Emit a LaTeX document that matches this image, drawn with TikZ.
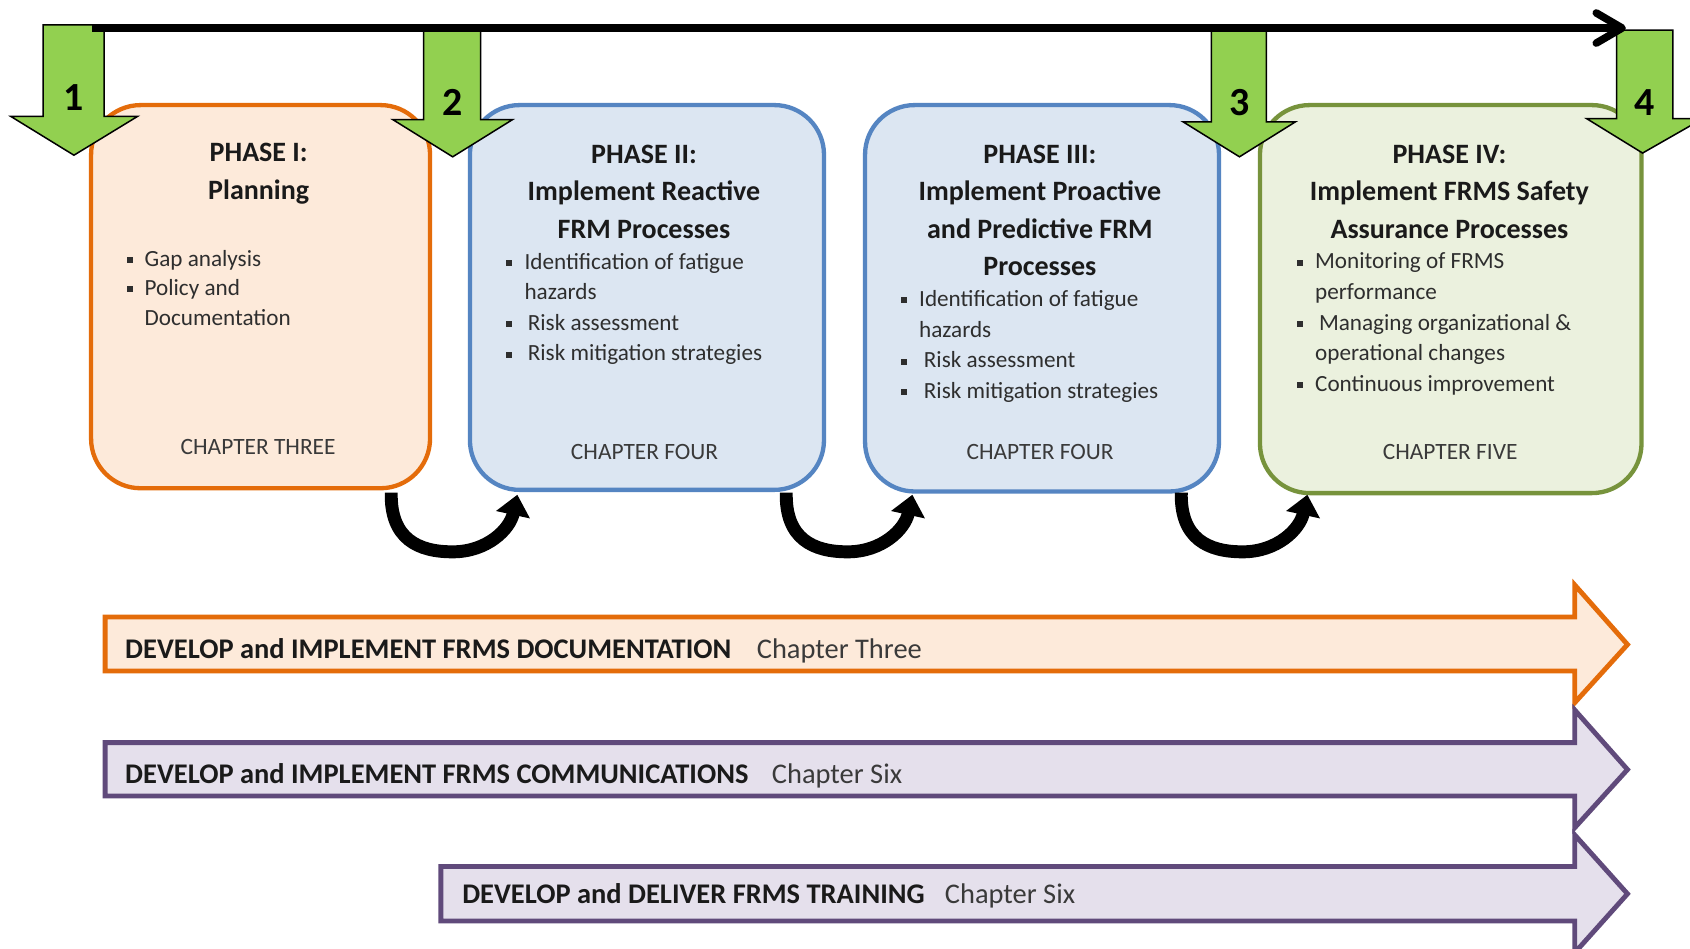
\documentclass[tikz,border=0pt]{standalone}
\usepackage{fontspec}
\setmainfont{Carlito}
\usetikzlibrary{arrows.meta}
\definecolor{orgB}{HTML}{E46C0A}
\definecolor{orgF}{HTML}{FDEADA}
\definecolor{bluB}{HTML}{5585C2}
\definecolor{bluF}{HTML}{DCE6F2}
\definecolor{grnB}{HTML}{77933C}
\definecolor{grnF}{HTML}{EBF1DE}
\definecolor{purB}{HTML}{604A7B}
\definecolor{purF}{HTML}{E5E0EC}
\definecolor{grnArrow}{HTML}{92D050}
\definecolor{tcol}{HTML}{1A1A1A}
\definecolor{bcol}{HTML}{2E2E2E}
\definecolor{ccol}{HTML}{3A3A3A}
\newcommand\bl[1]{\makebox[#1][l]{\raisebox{3pt}{\rule{5.5pt}{5.5pt}}}}
\begin{document}
\begin{tikzpicture}[x=1pt,y=-1pt,
  phase/.style={rounded corners=46pt, line width=4pt, anchor=north west, inner sep=0pt, outer sep=0pt},
  ttl/.style={anchor=base, align=center, inner sep=0pt, text=tcol, font=\bfseries\fontsize{26}{34.8}\selectfont},
  bul/.style={anchor=base west, align=left, inner sep=0pt, text=bcol, font=\fontsize{21.5}{28.4}\selectfont},
  chap/.style={anchor=base, inner sep=0pt, text=ccol, font=\fontsize{21.7}{26}\selectfont},
  garrow/.style={fill=grnArrow, draw=black, line width=1.4pt, line join=miter},
  num/.style={anchor=base, inner sep=0pt, text=black, font=\bfseries\fontsize{37}{40}\selectfont},
  topline/.style={line width=7pt, black},
  curv/.style={line width=12pt, black, -{Triangle[length=19pt,width=31pt]}},
  barrow/.style={line width=4.5pt, line join=miter},
  btxt/.style={anchor=base west, inner sep=0pt, text=tcol, font=\bfseries\fontsize{26.4}{30}\selectfont},
  bchap/.style={anchor=base west, inner sep=0pt, text=ccol, font=\fontsize{26.4}{30}\selectfont}
]
\useasboundingbox (0,0) rectangle (1568,880);
\fill[white] (0,0) rectangle (1568,880);

% phase boxes
\node[phase, draw=orgB, fill=orgF, minimum width=314.5pt, minimum height=355.5pt] (p1) at (84.5,97.5) {};
\node[phase, draw=bluB, fill=bluF, minimum width=328.5pt, minimum height=357pt] (p2) at (436,97.5) {};
\node[phase, draw=bluB, fill=bluF, minimum width=328.4pt, minimum height=358.5pt] (p3) at (802.6,97.5) {};
\node[phase, draw=grnB, fill=grnF, minimum width=354pt, minimum height=360pt] (p4) at (1169,97.5) {};

% titles (anchor = baseline of last line)
\node[ttl] (t1) at (240,184.8) {PHASE I:\\Planning};
\node[ttl] (t2) at (597.5,221.1) {PHASE II:\\Implement Reactive\\FRM Processes};
\node[ttl] (t3) at (964.8,255.9) {PHASE III:\\Implement Proactive\\and Predictive FRM\\Processes};
\node[ttl] (t4) at (1344.8,221.1) {PHASE IV:\\Implement FRMS Safety\\Assurance Processes};

% bullets (anchor = baseline of last line)
\node[bul, font=\fontsize{21.5}{27.3}\selectfont] (b1) at (118,301.6) {\bl{16pt}Gap analysis\\\bl{16pt}Policy and\\\hspace*{16pt}Documentation};
\node[bul] (b2) at (469.5,334.8) {\bl{17pt}Identification of fatigue\\\hspace*{17pt}hazards\\\bl{20pt}Risk assessment\\\bl{20pt}Risk mitigation strategies};
\node[bul] (b3) at (836,369.7) {\bl{16.6pt}Identification of fatigue\\\hspace*{16.6pt}hazards\\\bl{21pt}Risk assessment\\\bl{21pt}Risk mitigation strategies};
\node[bul] (b4) at (1203,363.1) {\bl{17pt}Monitoring of FRMS\\\hspace*{17pt}performance\\\bl{20.6pt}Managing organizational \&\\\hspace*{17pt}operational changes\\\bl{17pt}Continuous improvement};

% chapter labels
\node[chap] (c1) at (239.5,422) {CHAPTER THREE};
\node[chap] (c2) at (598,426) {CHAPTER FOUR};
\node[chap] (c3) at (965,426) {CHAPTER FOUR};
\node[chap] (c4) at (1345.5,426) {CHAPTER FIVE};

% green numbered arrows
\draw[garrow] (40,23) -- (96.5,23) -- (96.5,108) -- (127.6,108) -- (68.6,144) -- (10,108) -- (40,108) -- cycle;
\draw[garrow] (393,28.5) -- (446,28.5) -- (446,111) -- (475.5,111) -- (420,145.5) -- (364.5,111) -- (393,111) -- cycle;
\draw[garrow] (1124,28.5) -- (1175,28.5) -- (1175,113) -- (1202,113) -- (1150,145.5) -- (1097.6,113) -- (1124,113) -- cycle;
\draw[garrow] (1500,28) -- (1552,28) -- (1552,110) -- (1580,110) -- (1524,142) -- (1472,110) -- (1500,110) -- cycle;
\node[num] (n1) at (68.5,102.7) {1};
\node[num] (n2) at (419.8,106.7) {2};
\node[num] (n3) at (1150.5,106.7) {3};
\node[num] (n4) at (1526,106.7) {4};

% top timeline arrow
\coordinate (tl0) at (85,26);
\coordinate (tl1) at (1505,26);
\coordinate (tla) at (1481,12);
\coordinate (tlb) at (1481,40);
\draw[topline] (tl0) -- (tl1);
\draw[topline, line cap=round, line join=round] (tla) -- (tl1) -- (tlb);

% curved transition arrows
\foreach \k/\dx in {1/0, 2/366.5, 3/733} {
  \coordinate (cs\k) at (363+\dx,457);
  \coordinate (cm\k) at (420+\dx,512);
  \coordinate (ce\k) at (480+\dx,459);
  \draw[curv] (cs\k) .. controls +(-1,43) and +(-32,0) .. (cm\k) .. controls +(32,0) and +(-7,32) .. (ce\k);
}

% bottom block arrows
\draw[barrow, draw=orgB, fill=orgF] (97.5,572.5) -- (1461,572.5) -- (1461,542.7) -- (1510,598) -- (1461,652) -- (1461,622.6) -- (97.5,622.6) -- cycle;
\draw[barrow, draw=purB, fill=purF] (97.5,689) -- (1461,689) -- (1461,658.7) -- (1510,714) -- (1461,768) -- (1461,738.5) -- (97.5,738.5) -- cycle;
\draw[barrow, draw=purB, fill=purF] (409,804) -- (1461,804) -- (1461,774.6) -- (1510,829.3) -- (1461,884) -- (1461,854.5) -- (409,854.5) -- cycle;

\node[btxt] (d1) at (116,611.4) {DEVELOP and IMPLEMENT FRMS DOCUMENTATION};
\node[bchap] (e1) at (702,611.4) {Chapter Three};
\node[btxt] (d2) at (116,726.7) {DEVELOP and IMPLEMENT FRMS COMMUNICATIONS};
\node[bchap] (e2) at (716,726.7) {Chapter Six};
\node[btxt] (d3) at (428.7,838) {DEVELOP and DELIVER FRMS TRAINING};
\node[bchap] (e3) at (876.5,838) {Chapter Six};
\end{tikzpicture}
\end{document}
